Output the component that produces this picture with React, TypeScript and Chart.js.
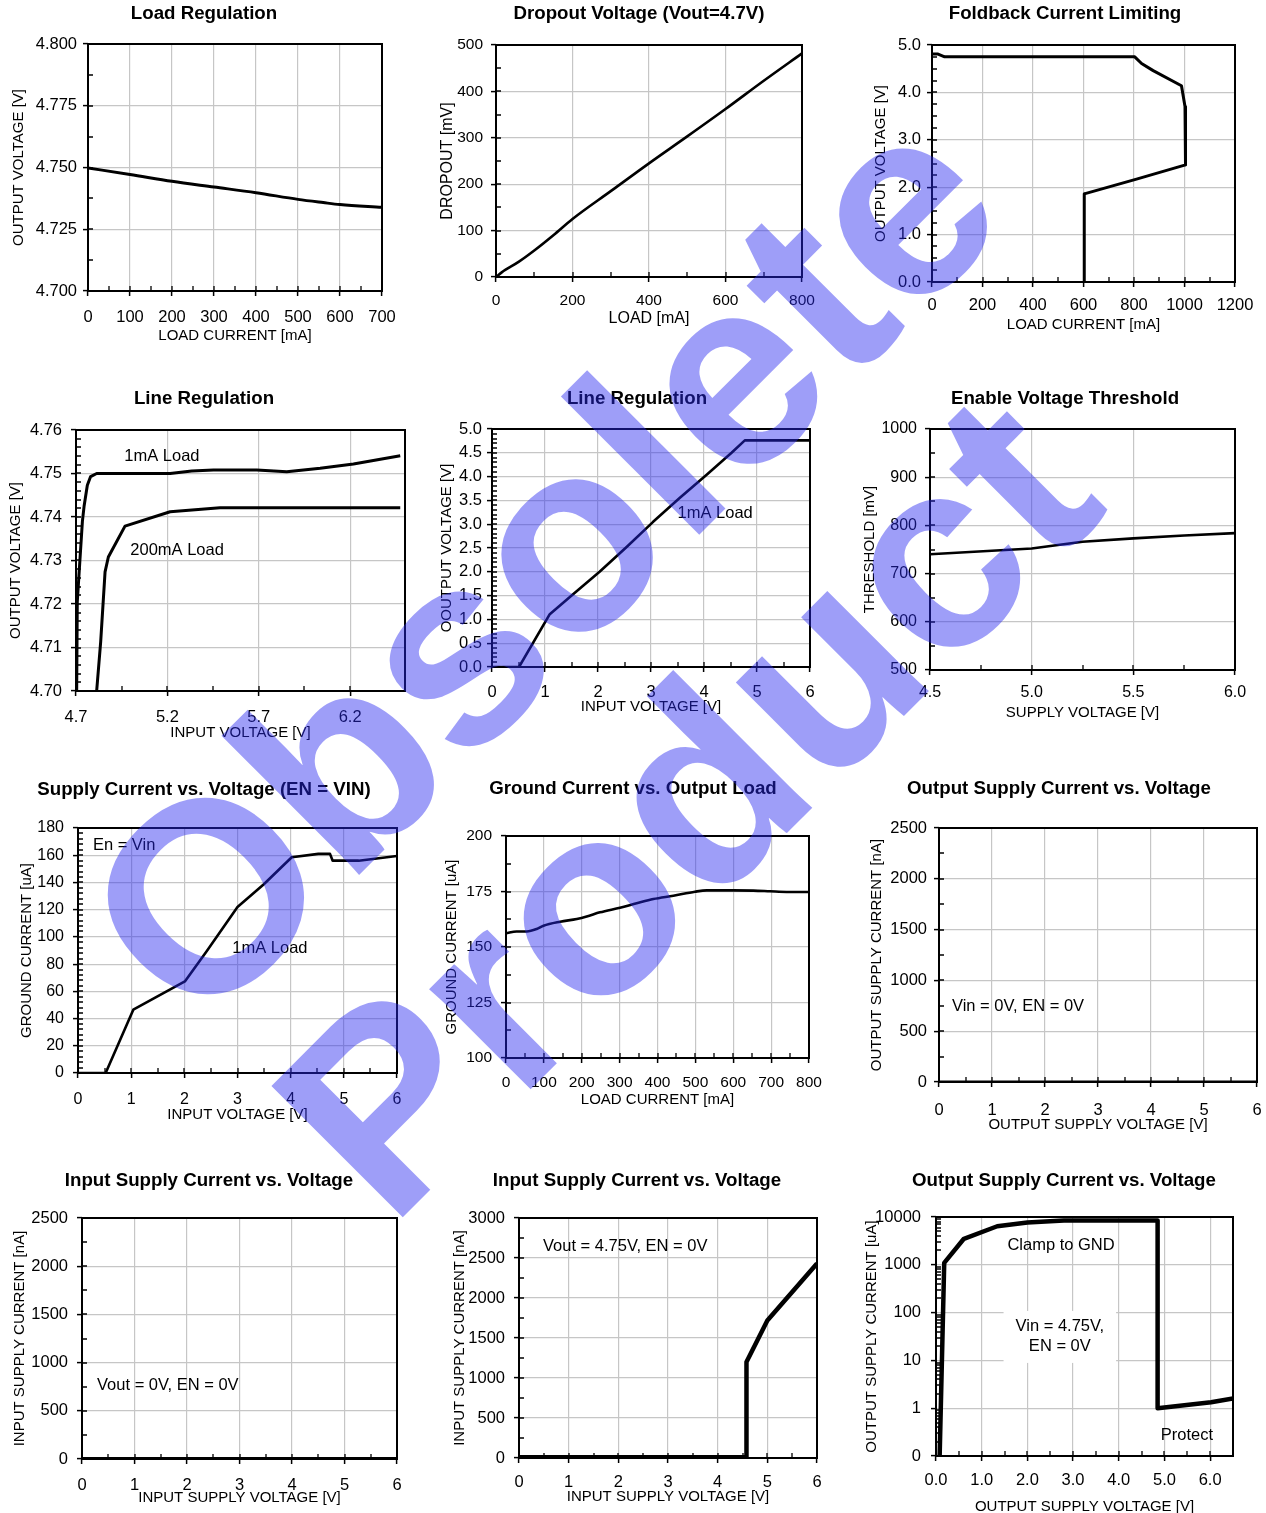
import React, { useEffect, useRef } from "react";
import { Chart, registerables } from "chart.js";

Chart.register(...registerables);

const FONT = "'Liberation Sans', Arial, Helvetica, sans-serif";
const GRID = "#c6c6c6";

// ---------- 1. Load Regulation ----------
const loadRegCurrent = [0, 100, 200, 300, 400, 500, 560, 600, 700];
const loadRegVoltage = [4.7498, 4.7472, 4.7444, 4.7421, 4.7398, 4.7371, 4.7358, 4.735, 4.7339];
const loadRegXTicks = [0, 100, 200, 300, 400, 500, 600, 700];
const loadRegYTicks = [4.7, 4.725, 4.75, 4.775, 4.8];

// ---------- 2. Dropout Voltage ----------
const dropoutLoad = [0, 15, 60, 100, 150, 200, 300, 400, 500, 600, 700, 800];
const dropoutMv = [0, 10, 33, 57, 90, 125, 185, 245, 303, 362, 423, 482];
const dropoutXTicks = [0, 200, 400, 600, 800];
const dropoutYTicks = [0, 100, 200, 300, 400, 500];

// ---------- 3. Foldback Current Limiting ----------
const foldCurrent = [0, 24, 50, 803, 830, 876, 988, 1002, 1004, 810, 603, 603];
const foldVoltage = [4.81, 4.81, 4.75, 4.75, 4.61, 4.46, 4.14, 3.7, 2.47, 2.17, 1.86, 0];
const foldXTicks = [0, 200, 400, 600, 800, 1000, 1200];
const foldYTicks = [0, 1, 2, 3, 4, 5];

// ---------- 4. Line Regulation (1mA / 200mA) ----------
const lineRegVin1mA = [4.7037, 4.707, 4.722, 4.735, 4.744, 4.762, 4.78, 4.813, 5.215, 5.333, 5.452, 5.689, 5.853, 6.036, 6.218, 6.474];
const lineRegVout1mA = [4.7, 4.7205, 4.7305, 4.739, 4.7424, 4.7473, 4.7493, 4.75, 4.75, 4.7506, 4.7508, 4.7508, 4.7504, 4.7512, 4.7522, 4.7541];
const lineRegVin200mA = [4.813, 4.835, 4.859, 4.877, 4.968, 5.215, 5.488, 6.474];
const lineRegVout200mA = [4.7, 4.7113, 4.7274, 4.7308, 4.7379, 4.7412, 4.7421, 4.7421];
const lineRegXTicks = [4.7, 5.2, 5.7, 6.2];
const lineRegYTicks = [4.7, 4.71, 4.72, 4.73, 4.74, 4.75, 4.76];

// ---------- 5. Line Regulation (0-6V) ----------
const lineReg2Vin = [0, 0.51, 1.09, 1.53, 2.03, 2.54, 3.04, 3.54, 4.05, 4.52, 4.77, 6.0];
const lineReg2Vout = [0, 0, 1.11, 1.53, 2.0, 2.52, 3.05, 3.55, 4.04, 4.5, 4.76, 4.76];
const zeroToSixTicks = [0, 1, 2, 3, 4, 5, 6];
const lineReg2YTicks = [0, 0.5, 1, 1.5, 2, 2.5, 3, 3.5, 4, 4.5, 5];

// ---------- 6. Enable Voltage Threshold ----------
const enableSupply = [4.5, 5.0, 5.25, 5.5, 5.75, 6.0];
const enableThreshold = [740, 752, 766, 773, 779, 784];
const enableXTicks = [4.5, 5.0, 5.5, 6.0];
const enableYTicks = [500, 600, 700, 800, 900, 1000];

// ---------- 7. Supply Current vs. Voltage ----------
const supplyVin = [0, 0.52, 1.04, 2.01, 2.42, 3.0, 3.49, 4.02, 4.52, 4.74, 4.79, 5.28, 6.0];
const supplyCurrent = [0, 0, 46.5, 67.3, 89.4, 122, 138.5, 158.5, 161, 161, 156, 156, 159.4];
const supplyYTicks = [0, 20, 40, 60, 80, 100, 120, 140, 160, 180];

// ---------- 8. Ground Current vs. Output Load ----------
const groundLoad = [0, 28, 55, 81, 99, 143, 187, 213, 248, 301, 345, 389, 442, 499, 530, 600, 653, 697, 741, 800];
const groundCurrent = [156.2, 157, 157, 158.1, 159.6, 161.4, 162.6, 163.7, 165.6, 167.7, 169.7, 171.6, 173.1, 174.9, 175.5, 175.5, 175.4, 175.1, 174.8, 174.8];
const groundXTicks = [0, 100, 200, 300, 400, 500, 600, 700, 800];
const groundYTicks = [100, 125, 150, 175, 200];

// ---------- 9. Output Supply Current (Vin = 0V) ----------
const outSupplyVoltage = [0, 1, 2, 3, 4, 5, 6];
const outSupplyCurrent = [0, 0, 0, 0, 0, 0, 0];
const nA2500Ticks = [0, 500, 1000, 1500, 2000, 2500];

// ---------- 10. Input Supply Current (Vout = 0V) ----------
const inSupplyVoltage = [0, 1, 2, 3, 4, 5, 6];
const inSupplyCurrent = [0, 0, 0, 0, 0, 0, 0];

// ---------- 11. Input Supply Current (Vout = 4.75V) ----------
const inSupply2Voltage = [0, 4.58, 4.58, 5.0, 6.0];
const inSupply2Current = [10, 10, 1200, 1720, 2430];
const nA3000Ticks = [0, 500, 1000, 1500, 2000, 2500, 3000];

// ---------- 12. Output Supply Current (Vin = 4.75V, log) ----------
const outSupply2Voltage = [0.08, 0.18, 0.61, 1.34, 2.0, 2.8, 4.85, 4.85, 6.02, 6.5];
const outSupply2Current = [0.1, 1100, 3500, 6400, 7700, 8400, 8400, 1.0, 1.33, 1.6];
const logXTicks = [0, 1, 2, 3, 4, 5, 6];
const logYTicks = [0.1, 1, 10, 100, 1000, 10000];
const logYLabels = ["0", "1", "10", "100", "1000", "10000"];

type Axis = {
  min: number; max: number; ticks: number[]; labels?: string[]; decimals?: number;
  minor?: number | "log"; title: string; log?: boolean;
};
type Series = { x: number[]; y: number[]; width: number; smooth?: boolean };
type Note = { text: string[]; x: number; y: number; align?: CanvasTextAlign; box?: boolean };
type Panel = {
  title: string; L: number; T: number; R: number; B: number;
  titleX: number; titleY: number; yTitleX: number; xTitleY: number; xLabY: number; yLabRight: number;
  tickFont?: number; axisFont?: number; x: Axis; y: Axis; series: Series[]; notes: Note[];
};

const panels: Panel[] = [
  {
    title: "Load Regulation", L: 88, T: 44, R: 382, B: 291, titleX: 204, titleY: 14, yTitleX: 19, xTitleY: 336, xLabY: 317, yLabRight: 77,
    x: { min: 0, max: 700, ticks: loadRegXTicks, decimals: 0, minor: 50, title: "LOAD CURRENT [mA]" },
    y: { min: 4.7, max: 4.8, ticks: loadRegYTicks, decimals: 3, minor: 0.0125, title: "OUTPUT VOLTAGE [V]" },
    series: [{ x: loadRegCurrent, y: loadRegVoltage, width: 3, smooth: true }], notes: [],
  },
  {
    title: "Dropout Voltage (Vout=4.7V)", L: 496, T: 45, R: 802, B: 277, titleX: 639, titleY: 14, yTitleX: 448, xTitleY: 318, xLabY: 301, yLabRight: 483, tickFont: 15.5, axisFont: 16,
    x: { min: 0, max: 800, ticks: dropoutXTicks, decimals: 0, minor: 100, title: "LOAD [mA]" },
    y: { min: 0, max: 500, ticks: dropoutYTicks, decimals: 0, minor: 50, title: "DROPOUT [mV]" },
    series: [{ x: dropoutLoad, y: dropoutMv, width: 2.6, smooth: true }], notes: [],
  },
  {
    title: "Foldback Current Limiting", L: 932, T: 45, R: 1235, B: 282, titleX: 1065, titleY: 14, yTitleX: 881, xTitleY: 325, xLabY: 305, yLabRight: 921,
    x: { min: 0, max: 1200, ticks: foldXTicks, decimals: 0, minor: 100, title: "LOAD CURRENT [mA]" },
    y: { min: 0, max: 5, ticks: foldYTicks, decimals: 1, minor: 0.25, title: "OUTPUT VOLTAGE [V]" },
    series: [{ x: foldCurrent, y: foldVoltage, width: 3 }], notes: [],
  },
  {
    title: "Line Regulation", L: 76, T: 430, R: 405, B: 691, titleX: 204, titleY: 399, yTitleX: 16, xTitleY: 733, xLabY: 717, yLabRight: 62,
    x: { min: 4.7, max: 6.5, ticks: lineRegXTicks, decimals: 1, minor: 0.25, title: "INPUT VOLTAGE [V]" },
    y: { min: 4.7, max: 4.76, ticks: lineRegYTicks, decimals: 2, minor: 0.002, title: "OUTPUT VOLTAGE [V]" },
    series: [
      { x: lineRegVin1mA, y: lineRegVout1mA, width: 3 },
      { x: lineRegVin200mA, y: lineRegVout200mA, width: 3 },
    ],
    notes: [
      { text: ["1mA Load"], x: 5.17, y: 4.754 },
      { text: ["200mA Load"], x: 5.253, y: 4.7322 },
    ],
  },
  {
    title: "Line Regulation", L: 492, T: 429, R: 810, B: 667, titleX: 637, titleY: 399, yTitleX: 447, xTitleY: 707, xLabY: 692, yLabRight: 482,
    x: { min: 0, max: 6, ticks: zeroToSixTicks, decimals: 0, minor: 0.5, title: "INPUT VOLTAGE [V]" },
    y: { min: 0, max: 5, ticks: lineReg2YTicks, decimals: 1, minor: 0.1, title: "OOUTPUT VOLTAGE [V]" },
    series: [{ x: lineReg2Vin, y: lineReg2Vout, width: 2.6 }],
    notes: [{ text: ["1mA Load"], x: 4.21, y: 3.235 }],
  },
  {
    title: "Enable Voltage Threshold", L: 930, T: 429, R: 1235, B: 670, titleX: 1065, titleY: 399, yTitleX: 870, xTitleY: 713, xLabY: 693, yLabRight: 917, tickFont: 16,
    x: { min: 4.5, max: 6, ticks: enableXTicks, decimals: 1, minor: 0.25, title: "SUPPLY VOLTAGE [V]" },
    y: { min: 500, max: 1000, ticks: enableYTicks, decimals: 0, minor: 50, title: "THRESHOLD [mV]" },
    series: [{ x: enableSupply, y: enableThreshold, width: 2.6 }], notes: [],
  },
  {
    title: "Supply Current vs. Voltage (EN = VIN)", L: 78, T: 828, R: 397, B: 1073, titleX: 204, titleY: 790, yTitleX: 27, xTitleY: 1115, xLabY: 1100, yLabRight: 64, tickFont: 16,
    x: { min: 0, max: 6, ticks: zeroToSixTicks, decimals: 0, minor: 0.5, title: "INPUT VOLTAGE [V]" },
    y: { min: 0, max: 180, ticks: supplyYTicks, decimals: 0, minor: 4, title: "GROUND CURRENT [uA]" },
    series: [{ x: supplyVin, y: supplyCurrent, width: 2.6 }],
    notes: [
      { text: ["En = Vin"], x: 0.28, y: 167, align: "left" },
      { text: ["1mA Load"], x: 3.61, y: 91.8 },
    ],
  },
  {
    title: "Ground Current vs. Output Load", L: 506, T: 836, R: 809, B: 1058, titleX: 633, titleY: 789, yTitleX: 452, xTitleY: 1100, xLabY: 1083, yLabRight: 492, tickFont: 15.5,
    x: { min: 0, max: 800, ticks: groundXTicks, decimals: 0, minor: 50, title: "LOAD CURRENT [mA]" },
    y: { min: 100, max: 200, ticks: groundYTicks, decimals: 0, minor: 12.5, title: "GROUND CURRENT [uA]" },
    series: [{ x: groundLoad, y: groundCurrent, width: 2.6, smooth: true }], notes: [],
  },
  {
    title: "Output Supply Current vs. Voltage", L: 939, T: 828, R: 1257, B: 1082, titleX: 1059, titleY: 789, yTitleX: 877, xTitleY: 1125, xLabY: 1110, yLabRight: 927,
    x: { min: 0, max: 6, ticks: zeroToSixTicks, decimals: 0, minor: 0.5, title: "OUTPUT SUPPLY VOLTAGE [V]" },
    y: { min: 0, max: 2500, ticks: nA2500Ticks, decimals: 0, minor: 250, title: "OUTPUT SUPPLY CURRENT [nA]" },
    series: [{ x: outSupplyVoltage, y: outSupplyCurrent, width: 3 }],
    notes: [{ text: ["Vin = 0V, EN = 0V"], x: 0.245, y: 748, align: "left" }],
  },
  {
    title: "Input Supply Current vs. Voltage", L: 82, T: 1218, R: 397, B: 1459, titleX: 209, titleY: 1181, yTitleX: 20, xTitleY: 1498, xLabY: 1485, yLabRight: 68,
    x: { min: 0, max: 6, ticks: zeroToSixTicks, decimals: 0, minor: 0.5, title: "INPUT SUPPLY VOLTAGE [V]" },
    y: { min: 0, max: 2500, ticks: nA2500Ticks, decimals: 0, minor: 250, title: "INPUT SUPPLY CURRENT [nA]" },
    series: [{ x: inSupplyVoltage, y: inSupplyCurrent, width: 4 }],
    notes: [{ text: ["Vout = 0V, EN = 0V"], x: 0.286, y: 768, align: "left" }],
  },
  {
    title: "Input Supply Current vs. Voltage", L: 519, T: 1218, R: 817, B: 1458, titleX: 637, titleY: 1181, yTitleX: 460, xTitleY: 1497, xLabY: 1482, yLabRight: 505,
    x: { min: 0, max: 6, ticks: zeroToSixTicks, decimals: 0, minor: 0.5, title: "INPUT SUPPLY VOLTAGE [V]" },
    y: { min: 0, max: 3000, ticks: nA3000Ticks, decimals: 0, minor: 250, title: "INPUT SUPPLY CURRENT [nA]" },
    series: [{ x: inSupply2Voltage, y: inSupply2Current, width: 4.5 }],
    notes: [{ text: ["Vout = 4.75V, EN = 0V"], x: 0.483, y: 2650, align: "left" }],
  },
  {
    title: "Output Supply Current vs. Voltage", L: 936, T: 1217, R: 1233, B: 1456, titleX: 1064, titleY: 1181, yTitleX: 872, xTitleY: 1507, xLabY: 1480, yLabRight: 921,
    x: { min: 0, max: 6.5, ticks: logXTicks, decimals: 1, minor: 0.5, title: "OUTPUT SUPPLY VOLTAGE [V]" },
    y: { min: 0.1, max: 10000, ticks: logYTicks, labels: logYLabels, minor: "log", log: true, title: "OUTPUT SUPPLY CURRENT [uA]" },
    series: [{ x: outSupply2Voltage, y: outSupply2Current, width: 4.5 }],
    notes: [
      { text: ["Clamp to GND"], x: 2.736, y: 2600 },
      { text: ["Vin = 4.75V,", "EN = 0V"], x: 2.71, y: 31, box: true },
      { text: ["Protect"], x: 5.49, y: 0.275 },
    ],
  },
];

const TITLE_FONT = 18.7;

function geometry(p: Panel) {
  const axisFont = p.axisFont ?? 15;
  const axLH = axisFont * 1.2;
  const titleLH = TITLE_FONT * 1.2;
  const canvasRight = Math.round(Math.max(p.R + 16, 2 * p.titleX - (p.yTitleX - axLH / 2)));
  const left = Math.round(2 * p.titleX - canvasRight);
  const top = Math.round(p.titleY - titleLH / 2 - 2);
  const bottom = Math.round(p.xTitleY + axLH / 2 + 2);
  return { left, top, width: canvasRight - left, height: bottom - top, axLH, titleLH, axisFont };
}

function buildConfig(p: Panel): any {
  const g = geometry(p);
  const tickFont = p.tickFont ?? 16.5;
  const tl = 5;
  const yW = p.L - g.left;
  const xH = g.top + g.height - p.B;
  const padRight = g.left + g.width - p.R;
  const titleBottomPad = p.T - g.top - g.titleLH - 2;
  const yTitlePadTop = p.yTitleX - g.axLH / 2 - g.left;
  const yTickPad = p.L - p.yLabRight - tl;
  const xTickPad = p.xLabY - p.B - tl - (tickFont * 1.2) / 2;

  const scale = (a: Axis, isX: boolean) => ({
    type: a.log ? "logarithmic" : "linear",
    position: isX ? "bottom" : "left",
    min: a.min,
    max: a.max,
    afterBuildTicks: (s: any) => {
      s.ticks = a.ticks.map((v) => ({ value: v }));
    },
    afterFit: isX
      ? (s: any) => {
          s.height = xH;
          s.paddingRight = padRight;
          s.paddingLeft = 0;
        }
      : (s: any) => {
          s.width = yW;
        },
    ticks: {
      autoSkip: false,
      maxRotation: 0,
      minRotation: 0,
      padding: isX ? xTickPad : yTickPad,
      color: "#000",
      font: { family: FONT, size: tickFont },
      callback: (v: any, i: number) => (a.labels ? a.labels[i] : Number(v).toFixed(a.decimals ?? 0)),
    },
    grid: { color: GRID, lineWidth: 1.2, drawTicks: true, tickLength: tl, tickColor: "#000", tickWidth: 1.5 },
    border: { display: false },
    title: {
      display: true,
      text: a.title,
      color: "#000",
      font: { family: FONT, size: g.axisFont, lineHeight: 1.2 },
      padding: isX ? { top: 0, bottom: 2 } : { top: yTitlePadTop, bottom: 0 },
    },
  });

  const decor = {
    id: "decor",
    afterDraw(chart: any) {
      const { ctx, chartArea: a } = chart;
      const xs = chart.scales.x;
      const ys = chart.scales.y;
      ctx.save();
      ctx.font = `16.5px ${FONT}`;
      ctx.textBaseline = "middle";
      for (const n of p.notes) {
        const px = xs.getPixelForValue(n.x);
        const py = ys.getPixelForValue(n.y);
        const lh = 20;
        const w = Math.max(...n.text.map((t) => ctx.measureText(t).width));
        const h = n.text.length * lh;
        if (n.box) {
          ctx.fillStyle = "#fff";
          ctx.fillRect(px - w / 2 - 12, py - h / 2 - 6, w + 24, h + 12);
        }
        ctx.fillStyle = "#000";
        ctx.textAlign = n.align ?? "center";
        n.text.forEach((t, i) => ctx.fillText(t, px, py - h / 2 + lh / 2 + i * lh));
      }
      ctx.strokeStyle = "#000";
      ctx.lineWidth = 1.3;
      ctx.beginPath();
      if (typeof p.x.minor === "number") {
        const cnt = Math.round((p.x.max - p.x.min) / p.x.minor);
        for (let i = 1; i < cnt; i++) {
          const px = Math.round(xs.getPixelForValue(p.x.min + i * p.x.minor));
          ctx.moveTo(px, a.bottom);
          ctx.lineTo(px, a.bottom - 5);
        }
      }
      if (typeof p.y.minor === "number") {
        const cnt = Math.round((p.y.max - p.y.min) / p.y.minor);
        for (let i = 1; i < cnt; i++) {
          const py = Math.round(ys.getPixelForValue(p.y.min + i * p.y.minor));
          ctx.moveTo(a.left, py);
          ctx.lineTo(a.left + 5, py);
        }
      } else if (p.y.minor === "log") {
        for (let d = -1; d < 4; d++) {
          for (let k = 2; k <= 9; k++) {
            const py = Math.round(ys.getPixelForValue(k * Math.pow(10, d)));
            ctx.moveTo(a.left, py);
            ctx.lineTo(a.left + 5, py);
          }
        }
      }
      ctx.stroke();
      ctx.lineWidth = 2;
      ctx.strokeRect(a.left, a.top, a.right - a.left, a.bottom - a.top);
      ctx.restore();
    },
  };

  return {
    type: "line",
    data: {
      datasets: p.series.map((s) => ({
        data: s.x.map((xv, i) => ({ x: xv, y: s.y[i] })),
        borderColor: "#000",
        backgroundColor: "#000",
        borderWidth: s.width,
        pointRadius: 0,
        fill: false,
        tension: 0,
        cubicInterpolationMode: s.smooth ? "monotone" : "default",
        borderJoinStyle: "round",
      })),
    },
    options: {
      responsive: false,
      maintainAspectRatio: false,
      animation: false,
      devicePixelRatio: 1,
      events: [],
      layout: { padding: 0, autoPadding: false },
      plugins: {
        legend: { display: false },
        tooltip: { enabled: false },
        title: {
          display: true,
          text: p.title,
          color: "#000",
          font: { family: FONT, size: TITLE_FONT, weight: "bold", lineHeight: 1.2 },
          padding: { top: 2, bottom: titleBottomPad },
        },
      },
      scales: { x: scale(p.x, true), y: scale(p.y, false) },
    },
    plugins: [decor],
  };
}

function PanelChart({ p }: { p: Panel }) {
  const ref = useRef<HTMLCanvasElement | null>(null);
  const g = geometry(p);
  useEffect(() => {
    if (!ref.current) return;
    const chart = new Chart(ref.current, buildConfig(p));
    return () => chart.destroy();
  }, [p]);
  return (
    <canvas
      ref={ref}
      width={g.width}
      height={g.height}
      style={{ position: "absolute", left: g.left, top: g.top, width: g.width, height: g.height }}
    />
  );
}

export default function App() {
  return (
    <div style={{ position: "absolute", left: 0, top: 0, width: 1266, height: 1513, overflow: "hidden", background: "#fff" }}>
      {panels.map((p, i) => (
        <PanelChart key={i} p={p} />
      ))}
      <svg
        width={1266}
        height={1513}
        style={{ position: "absolute", left: 0, top: 0, pointerEvents: "none" }}
      >
        <g fill="rgb(40,40,240)" fillOpacity={0.45} fontFamily={FONT} fontWeight="bold" fontSize={270}>
          <text x={198} y={1036} transform="rotate(-45 198 1036)">Obsolete</text>
          <text x={390} y={1230} transform="rotate(-45 390 1230)">Product</text>
        </g>
      </svg>
    </div>
  );
}
